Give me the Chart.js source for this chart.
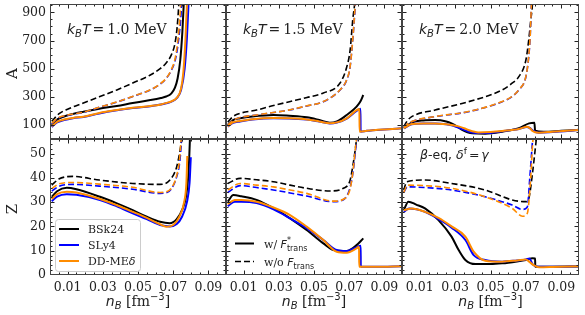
<!DOCTYPE html>
<html><head><meta charset="utf-8">
<script src="https://cdn.jsdelivr.net/npm/chart.js@4"></script>
<style>
html,body{margin:0;padding:0;background:#fff;width:585px;height:315px;overflow:hidden}
canvas{position:absolute;left:0;top:0}
</style></head>
<body>
<canvas id="c0" width="585" height="315"></canvas>
<canvas id="c1" width="585" height="315"></canvas>
<canvas id="c2" width="585" height="315"></canvas>
<canvas id="c3" width="585" height="315"></canvas>
<canvas id="c4" width="585" height="315"></canvas>
<canvas id="c5" width="585" height="315"></canvas>
<script>
// ---------------- data ----------------
const models = ['BSk24', 'SLy4', 'DD-MEδ'];
const temperatures = ['1.0', '1.5', '2.0'];
const xTickVals = [0.01, 0.03, 0.05, 0.07, 0.09];
const yTicksA = [100, 300, 500, 700, 900];
const yTicksZ = [0, 10, 20, 30, 40, 50];

// A, kT = 1.0 MeV   [nB, A]
const A_T10_BSk24_w  = [[0.001,100],[0.004,138],[0.008,160],[0.013,178],[0.019,194],[0.028,215],[0.038,235],[0.047,256],[0.057,277],[0.063,292],[0.066,302],[0.069,325],[0.071,365],[0.0725,430],[0.074,560],[0.0752,760],[0.076,960],[0.0768,1200]];
const A_T10_SLy4_w   = [[0.001,85],[0.004,118],[0.008,135],[0.013,148],[0.019,157],[0.028,182],[0.038,204],[0.047,220],[0.057,233],[0.063,245],[0.066,254],[0.069,266],[0.072,290],[0.0745,350],[0.0765,500],[0.0778,720],[0.0787,960],[0.0795,1200]];
const A_T10_DDME_w   = [[0.001,90],[0.004,122],[0.008,138],[0.013,150],[0.019,159],[0.028,185],[0.038,206],[0.047,222],[0.057,235],[0.063,246],[0.066,256],[0.069,268],[0.072,292],[0.0745,360],[0.0758,480],[0.077,720],[0.0778,960],[0.0785,1200]];
const A_T10_BSk24_wo = [[0.001,125],[0.005,178],[0.01,212],[0.019,256],[0.028,300],[0.038,349],[0.047,398],[0.057,455],[0.062,495],[0.066,540],[0.069,600],[0.071,680],[0.0722,790],[0.0732,960],[0.074,1150]];
const A_T10_SLy4_wo  = [[0.001,108],[0.005,150],[0.01,168],[0.019,190],[0.028,225],[0.038,262],[0.047,302],[0.057,349],[0.062,385],[0.066,430],[0.069,490],[0.0715,580],[0.0732,720],[0.0745,900],[0.0752,1100]];
const A_T10_DDME_wo  = [[0.001,112],[0.005,153],[0.01,170],[0.019,191],[0.028,226],[0.038,263],[0.047,303],[0.057,350],[0.062,387],[0.066,432],[0.069,495],[0.0712,580],[0.0728,720],[0.074,900],[0.0748,1100]];

// A, kT = 1.5 MeV
const A_T15_BSk24_w  = [[0.001,100],[0.004,135],[0.008,147],[0.015,160],[0.027,171],[0.036,165],[0.046,154],[0.053,135],[0.059,116],[0.063,125],[0.0686,171],[0.0742,230],[0.0765,270],[0.078,313]];
const A_T15_SLy4_w   = [[0.001,88],[0.004,115],[0.008,125],[0.015,138],[0.027,147],[0.036,146],[0.046,138],[0.053,124],[0.059,111],[0.063,117],[0.0686,145],[0.0742,200],[0.0764,215],[0.0765,52],[0.08,58],[0.09,68],[0.1,76]];
const A_T15_DDME_w   = [[0.001,90],[0.004,118],[0.008,128],[0.015,141],[0.027,149],[0.036,147],[0.046,139],[0.053,125],[0.059,112],[0.063,118],[0.0686,147],[0.0742,205],[0.0758,213],[0.0759,52],[0.08,58],[0.09,68],[0.1,76]];
const A_T15_BSk24_wo = [[0.001,120],[0.004,160],[0.0087,185],[0.0174,206],[0.027,238],[0.036,265],[0.046,295],[0.0553,327],[0.0648,398],[0.0686,512],[0.0705,630],[0.072,846],[0.0733,1000],[0.074,1200]];
const A_T15_SLy4_wo  = [[0.001,100],[0.005,140],[0.0087,155],[0.0174,171],[0.027,188],[0.036,206],[0.046,235],[0.0553,265],[0.0648,349],[0.0686,420],[0.0705,512],[0.072,704],[0.0735,960],[0.0745,1200]];
const A_T15_DDME_wo  = [[0.001,100],[0.005,140],[0.0087,155],[0.0174,171],[0.027,189],[0.036,207],[0.046,236],[0.0553,266],[0.0648,350],[0.0686,422],[0.0705,515],[0.072,708],[0.0734,960],[0.0744,1200]];

// A, kT = 2.0 MeV
const A_T20_BSk24_w  = [[0.001,77],[0.0055,116],[0.012,132],[0.0187,135],[0.025,125],[0.028,111],[0.031,90],[0.034,64],[0.037,48],[0.0396,40],[0.047,38],[0.0566,52],[0.066,77],[0.0718,111],[0.0748,115],[0.0752,60],[0.08,52],[0.09,58],[0.1,65]];
const A_T20_SLy4_w   = [[0.001,75],[0.0055,105],[0.012,110],[0.0187,110],[0.025,105],[0.028,98],[0.031,85],[0.034,70],[0.037,55],[0.0405,45],[0.047,42],[0.0566,55],[0.066,71],[0.0705,85],[0.072,80],[0.074,60],[0.0773,45],[0.085,50],[0.1,64]];
const A_T20_DDME_w   = [[0.001,77],[0.0055,107],[0.012,111],[0.0187,111],[0.028,100],[0.032,90],[0.0355,75],[0.0375,64],[0.0432,47],[0.05,50],[0.0566,57],[0.066,71],[0.0708,88],[0.0725,75],[0.0737,57],[0.0773,45],[0.085,52],[0.1,64]];
const A_T20_BSk24_wo = [[0.001,88],[0.003,130],[0.0055,159],[0.0187,206],[0.0375,265],[0.0566,349],[0.062,395],[0.066,443],[0.07,562],[0.0716,704],[0.0728,850],[0.0737,960],[0.0745,1200]];
const A_T20_SLy4_wo  = [[0.001,80],[0.003,105],[0.0055,123],[0.0187,159],[0.0375,194],[0.0566,265],[0.062,300],[0.066,349],[0.07,443],[0.0716,585],[0.0725,750],[0.0731,960],[0.074,1200]];
const A_T20_DDME_wo  = [[0.001,80],[0.003,106],[0.0055,124],[0.0187,160],[0.0375,195],[0.0566,266],[0.062,301],[0.066,350],[0.07,445],[0.0716,590],[0.0725,755],[0.0731,960],[0.074,1200]];

// Z, kT = 1.0 MeV   [nB, Z]
const Z_T10_BSk24_w  = [[0.001,32.2],[0.004,34.5],[0.0095,35.9],[0.015,35.3],[0.0284,32.2],[0.038,29.5],[0.047,26.7],[0.055,24],[0.0625,21.9],[0.068,21.3],[0.072,23],[0.0752,27],[0.0772,32],[0.0785,40],[0.0792,50],[0.0797,60]];
const Z_T10_SLy4_w   = [[0.001,30.4],[0.004,32.3],[0.0095,33.3],[0.015,33],[0.0284,30.9],[0.038,28.3],[0.047,25.4],[0.055,23],[0.0625,20.6],[0.068,20],[0.072,21],[0.075,24],[0.0778,30],[0.0793,38],[0.08,48.5]];
const Z_T10_DDME_w   = [[0.001,31.3],[0.004,33.3],[0.0095,34.3],[0.015,34],[0.0284,31.3],[0.038,28.7],[0.047,26],[0.055,23.5],[0.0625,20.9],[0.066,19.9],[0.07,20.6],[0.0735,24],[0.0762,30],[0.0775,38],[0.078,49]];
const Z_T10_BSk24_wo = [[0.001,37],[0.005,39.5],[0.013,40.6],[0.028,39.1],[0.047,37.7],[0.0625,37.3],[0.068,39],[0.072,44.6],[0.0739,51.4],[0.0748,56],[0.0755,62]];
const Z_T10_SLy4_wo  = [[0.001,34.5],[0.005,36.5],[0.013,37.3],[0.028,36.6],[0.047,35.3],[0.0625,33.6],[0.066,33.8],[0.069,35.5],[0.072,40.5],[0.0738,47],[0.0748,56],[0.0755,62]];
const Z_T10_DDME_wo  = [[0.001,35.5],[0.005,37.5],[0.013,38.1],[0.028,37.4],[0.047,36.1],[0.0625,34],[0.066,34.2],[0.069,35.8],[0.0718,40.5],[0.0735,47],[0.0745,56],[0.075,62]];

// Z, kT = 1.5 MeV
const Z_T15_BSk24_w  = [[0.001,30.2],[0.0042,32.9],[0.0087,32.4],[0.0174,30.9],[0.027,27.5],[0.0364,23.3],[0.0458,18.5],[0.0553,13],[0.061,10.3],[0.0686,9.9],[0.0742,12.3],[0.078,15.1]];
const Z_T15_SLy4_w   = [[0.001,28.4],[0.005,30.2],[0.0087,30.2],[0.0174,29.6],[0.027,27],[0.0364,23.3],[0.0458,19.3],[0.0553,14.4],[0.0629,10.3],[0.0686,9.9],[0.0742,11.5],[0.0765,12],[0.0766,3.4],[0.085,3.4],[0.1,3.6]];
const Z_T15_DDME_w   = [[0.001,29.2],[0.005,30.9],[0.0087,30.9],[0.0174,30.2],[0.027,27.8],[0.0364,24.7],[0.0458,19.9],[0.0553,14.4],[0.0629,9.6],[0.0686,9.2],[0.0742,11],[0.0756,11.6],[0.0757,3.4],[0.085,3.4],[0.1,3.6]];
const Z_T15_BSk24_wo = [[0.001,37.7],[0.008,39.8],[0.0174,39.2],[0.0269,38.4],[0.0364,37],[0.0458,35.7],[0.059,34.6],[0.0667,35.7],[0.0705,39],[0.0723,46],[0.0735,52],[0.0745,58]];
const Z_T15_SLy4_wo  = [[0.001,34],[0.008,36.8],[0.0174,36],[0.0269,35],[0.0364,33.8],[0.0458,32.5],[0.061,30.2],[0.0667,31],[0.0705,36],[0.0723,43],[0.0737,52],[0.0748,58]];
const Z_T15_DDME_wo  = [[0.001,35],[0.008,37.7],[0.0174,37],[0.0269,36.3],[0.0364,35],[0.0458,33.6],[0.061,30.4],[0.0667,31.2],[0.0705,35.4],[0.0723,43.6],[0.0735,52],[0.0745,58]];

// Z, kT = 2.0 MeV (beta-eq)
const Z_T20_BSk24_w  = [[0.001,26.7],[0.0036,30.2],[0.008,29],[0.013,27.4],[0.0206,22.6],[0.028,15.8],[0.032,10.3],[0.0358,6.2],[0.0415,4.5],[0.05,4.5],[0.0566,4.8],[0.065,5.6],[0.07,6.2],[0.0737,6.9],[0.0752,6.8],[0.0753,3.4],[0.085,3.4],[0.1,3.5]];
const Z_T20_SLy4_w   = [[0.001,26],[0.004,27.4],[0.013,26],[0.0206,23],[0.028,19.5],[0.0358,14.4],[0.0405,8.2],[0.047,6.2],[0.0566,5.5],[0.065,6],[0.07,6.4],[0.072,6.8],[0.0737,4.5],[0.077,3.4],[0.085,3.4],[0.1,3.6]];
const Z_T20_DDME_w   = [[0.001,26.7],[0.0055,27.4],[0.013,26],[0.0206,23.5],[0.028,20],[0.0358,15.8],[0.0405,9.6],[0.047,5.9],[0.0566,5.5],[0.065,6],[0.07,6.4],[0.0718,5.5],[0.0745,4],[0.0773,3.2],[0.085,3.3],[0.1,3.6]];
const Z_T20_BSk24_wo = [[0.001,35],[0.0027,38.4],[0.013,39.1],[0.028,37.7],[0.047,35],[0.0623,30.9],[0.07,30.2],[0.0718,32],[0.0737,41.8],[0.0756,54],[0.0765,60]];
const Z_T20_SLy4_wo  = [[0.001,34],[0.003,36.3],[0.013,36],[0.028,35],[0.047,32.2],[0.0623,28.8],[0.068,27],[0.0708,28],[0.0722,40],[0.0732,50],[0.074,58]];
const Z_T20_DDME_wo  = [[0.001,34],[0.003,37],[0.013,36.8],[0.028,35.7],[0.047,32.2],[0.0623,27.4],[0.068,24.2],[0.0708,25.4],[0.0727,40],[0.0737,52.8],[0.0745,60]];

// ---------------- style / layout ----------------
const COLORS = ['#000000', '#0000ff', '#ff8c00'];
const COLS = [[50, 226], [226, 402], [402, 579]];
const ROWS = [[4, 139], [139, 275]];
const XAXIS_H = 40;
const SERIF = 'DejaVu Serif';
const SANS = 'DejaVu Sans';
const INK = '#222';

function pts(arr) { return arr.map(p => ({ x: p[0], y: p[1] })); }

function drawRich(ctx, x, y, segs, align) {
  let w = 0;
  for (const s of segs) { ctx.font = s.font; w += ctx.measureText(s.t).width + (s.gap || 0); }
  let cx = align === 'center' ? x - w / 2 : x;
  ctx.textBaseline = 'alphabetic';
  ctx.textAlign = 'left';
  for (const s of segs) {
    ctx.font = s.font;
    ctx.fillText(s.t, cx, y + (s.dy || 0));
    cx += ctx.measureText(s.t).width + (s.gap || 0);
  }
}

function range(a, b, step) { const r = []; for (let v = a; v <= b + 1e-9; v += step) r.push(+v.toFixed(6)); return r; }

function build(id, col, row, sets, quantity, tIdx) {
  const [l, r] = COLS[col];
  const [t, b] = ROWS[row];
  const showY = col === 0, showX = row === 1;
  const isA = quantity === 'A';
  const yMin = 0, yMax = isA ? 960 : 56;
  const yMajor = isA ? yTicksA : yTicksZ;
  const yMinor = isA ? range(0, 950, 50) : range(0, 56, 2);
  const xMinor = range(0.005, 0.1, 0.005);

  const datasets = [];
  sets.forEach((s, i) => {
    datasets.push({ data: pts(s.w), borderColor: COLORS[i], borderWidth: 2, borderDash: [], pointRadius: 0, cubicInterpolationMode: 'monotone', fill: false, order: 10 - i * 2 });
    datasets.push({ data: pts(s.wo), borderColor: COLORS[i], borderWidth: 1.6, borderDash: [6, 3], pointRadius: 0, cubicInterpolationMode: 'monotone', fill: false, order: 11 - i * 2 });
  });

  const decor = {
    id: 'decor' + id,
    afterDatasetsDraw(chart) {
      const ctx = chart.ctx;
      const ca = chart.chartArea;
      const xs = chart.scales.x, ys = chart.scales.y;
      ctx.save();
      ctx.strokeStyle = INK; ctx.lineWidth = 1;
      const line = (x1, y1, x2, y2) => { ctx.beginPath(); ctx.moveTo(x1, y1); ctx.lineTo(x2, y2); ctx.stroke(); };
      for (const v of xMinor) { const p = Math.round(xs.getPixelForValue(v)) + 0.5; if (p > ca.left + 1 && p < ca.right - 1) { line(p, ca.bottom, p, ca.bottom - 2.5); line(p, ca.top, p, ca.top + 2.5); } }
      for (const v of xTickVals) { const p = Math.round(xs.getPixelForValue(v)) + 0.5; line(p, ca.bottom, p, ca.bottom - 4.5); line(p, ca.top, p, ca.top + 4.5); }
      for (const v of yMinor) { const p = Math.round(ys.getPixelForValue(v)) + 0.5; if (p > ca.top + 1 && p < ca.bottom - 1) { line(ca.left, p, ca.left + 2.5, p); line(ca.right, p, ca.right - 2.5, p); } }
      for (const v of yMajor) { const p = Math.round(ys.getPixelForValue(v)) + 0.5; if (p > ca.top && p < ca.bottom) { line(ca.left, p, ca.left + 4.5, p); line(ca.right, p, ca.right - 4.5, p); } }
      ctx.strokeStyle = '#444';
      ctx.strokeRect(ca.left + 0.5, ca.top + 0.5, ca.right - ca.left - 1, ca.bottom - ca.top - 1);
      ctx.fillStyle = INK;

      if (row === 0) {
        drawRich(ctx, ca.left + 17, ca.top + 30, [
          { t: 'k', font: 'italic 14px ' + SANS },
          { t: 'B', font: 'italic 10px ' + SANS, dy: 3 },
          { t: 'T', font: 'italic 14px ' + SANS, gap: 2 },
          { t: '=', font: '14px ' + SANS, gap: 3 },
          { t: temperatures[tIdx] + ' MeV', font: '14px ' + SERIF }
        ]);
      }
      if (row === 1 && col === 2) {
        drawRich(ctx, ca.left + 18, ca.top + 20, [
          { t: 'β', font: 'italic 12.5px ' + SANS },
          { t: '-eq, ', font: '12.5px ' + SANS },
          { t: 'δ', font: 'italic 12.5px ' + SANS },
          { t: 'f', font: '9px ' + SANS, dy: -5, gap: 2 },
          { t: '=', font: '12.5px ' + SANS, gap: 2 },
          { t: 'γ', font: 'italic 12.5px ' + SANS }
        ]);
      }
      if (col === 0) {
        ctx.save();
        ctx.translate(13, (t + b) / 2 + 2);
        ctx.rotate(-Math.PI / 2);
        ctx.font = '15px ' + SERIF; ctx.textAlign = 'center'; ctx.textBaseline = 'middle';
        ctx.fillText(quantity, 0, 0);
        ctx.restore();
      }
      if (row === 1) {
        drawRich(ctx, (l + r) / 2, 306, [
          { t: 'n', font: 'italic 14px ' + SANS },
          { t: 'B', font: 'italic 10px ' + SANS, dy: 3 },
          { t: ' [fm', font: '14px ' + SERIF },
          { t: '−3', font: '10px ' + SANS, dy: -6 },
          { t: ']', font: '14px ' + SERIF }
        ], 'center');
      }
      if (row === 1 && col === 0) {
        ctx.save();
        ctx.fillStyle = 'rgba(255,255,255,0.85)';
        ctx.strokeStyle = '#ccc';
        ctx.beginPath();
        ctx.roundRect(55.5, 219.5, 85, 52, 3);
        ctx.fill(); ctx.stroke();
        ctx.restore();
        const ys3 = [229, 245, 261];
        models.forEach((m, i) => {
          ctx.strokeStyle = COLORS[i]; ctx.lineWidth = 2; ctx.setLineDash([]);
          line(59, ys3[i], 79, ys3[i]);
          ctx.fillStyle = INK;
          if (i === 2) {
            drawRich(ctx, 88, ys3[i] + 4, [{ t: 'DD-ME', font: '11px ' + SERIF }, { t: 'δ', font: 'italic 11px ' + SANS }]);
          } else {
            drawRich(ctx, 88, ys3[i] + 4, [{ t: m, font: '11px ' + SERIF }]);
          }
        });
      }
      if (row === 1 && col === 1) {
        ctx.strokeStyle = '#000'; ctx.lineWidth = 2; ctx.setLineDash([]);
        line(235, 243.5, 254, 243.5);
        ctx.lineWidth = 1.6; ctx.setLineDash([6, 3]);
        line(235, 261.5, 254, 261.5);
        ctx.setLineDash([]);
        ctx.fillStyle = INK;
        drawRich(ctx, 264, 247.5, [
          { t: 'w/ ', font: '11px ' + SERIF },
          { t: 'F', font: 'italic 11px ' + SANS },
          { t: '*', font: '8px ' + SANS, dy: -5, gap: -4 },
          { t: 'trans', font: '8px ' + SANS, dy: 3 }
        ]);
        drawRich(ctx, 264, 265.5, [
          { t: 'w/o ', font: '11px ' + SERIF },
          { t: 'F', font: 'italic 11px ' + SANS },
          { t: 'trans', font: '8px ' + SANS, dy: 3 }
        ]);
      }
      ctx.restore();
    }
  };

  return new Chart(document.getElementById(id), {
    type: 'line',
    data: { datasets },
    options: {
      responsive: false, animation: false, devicePixelRatio: 1,
      layout: { padding: { left: showY ? 0 : l, right: 585 - r, top: t, bottom: showX ? 315 - b - XAXIS_H : 315 - b } },
      plugins: { legend: { display: false }, tooltip: { enabled: false } },
      scales: {
        x: {
          type: 'linear', min: 0, max: 0.1, display: showX,
          afterBuildTicks: s => { s.ticks = xTickVals.map(v => ({ value: v })); },
          afterFit: s => { if (showX) s.height = XAXIS_H; s.paddingLeft = 0; s.paddingRight = 0; s.paddingTop = 0; s.paddingBottom = 0; },
          grid: { display: false, drawTicks: false }, border: { display: false },
          ticks: { padding: 5, maxRotation: 0, minRotation: 0, autoSkip: false, color: INK,
                   font: { family: SERIF, size: 12.5 }, callback: v => v.toFixed(2) }
        },
        y: {
          type: 'linear', min: yMin, max: yMax, display: showY,
          afterBuildTicks: s => { s.ticks = yMajor.map(v => ({ value: v })); },
          afterFit: s => { if (showY) s.width = l; s.paddingLeft = 0; s.paddingRight = 0; s.paddingTop = 0; s.paddingBottom = 0; },
          grid: { display: false, drawTicks: false }, border: { display: false },
          ticks: { padding: 4, autoSkip: false, color: INK, font: { family: SERIF, size: 12.5 }, callback: v => String(v) }
        }
      }
    },
    plugins: [decor]
  });
}

build('c0', 0, 0, [{ w: A_T10_BSk24_w, wo: A_T10_BSk24_wo }, { w: A_T10_SLy4_w, wo: A_T10_SLy4_wo }, { w: A_T10_DDME_w, wo: A_T10_DDME_wo }], 'A', 0);
build('c1', 1, 0, [{ w: A_T15_BSk24_w, wo: A_T15_BSk24_wo }, { w: A_T15_SLy4_w, wo: A_T15_SLy4_wo }, { w: A_T15_DDME_w, wo: A_T15_DDME_wo }], 'A', 1);
build('c2', 2, 0, [{ w: A_T20_BSk24_w, wo: A_T20_BSk24_wo }, { w: A_T20_SLy4_w, wo: A_T20_SLy4_wo }, { w: A_T20_DDME_w, wo: A_T20_DDME_wo }], 'A', 2);
build('c3', 0, 1, [{ w: Z_T10_BSk24_w, wo: Z_T10_BSk24_wo }, { w: Z_T10_SLy4_w, wo: Z_T10_SLy4_wo }, { w: Z_T10_DDME_w, wo: Z_T10_DDME_wo }], 'Z', 0);
build('c4', 1, 1, [{ w: Z_T15_BSk24_w, wo: Z_T15_BSk24_wo }, { w: Z_T15_SLy4_w, wo: Z_T15_SLy4_wo }, { w: Z_T15_DDME_w, wo: Z_T15_DDME_wo }], 'Z', 1);
build('c5', 2, 1, [{ w: Z_T20_BSk24_w, wo: Z_T20_BSk24_wo }, { w: Z_T20_SLy4_w, wo: Z_T20_SLy4_wo }, { w: Z_T20_DDME_w, wo: Z_T20_DDME_wo }], 'Z', 2);
</script>
</body></html>
